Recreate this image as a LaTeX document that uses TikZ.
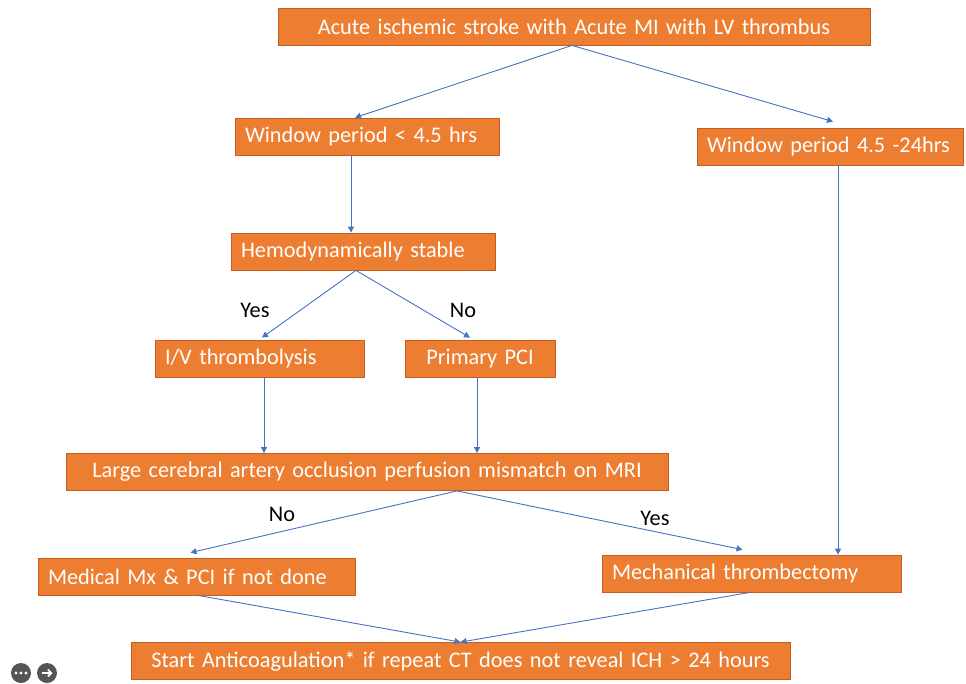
\documentclass[tikz,border=0pt]{standalone}
\usepackage{fontspec}
\setmainfont{Carlito}
\usetikzlibrary{arrows.meta,calc}
\definecolor{boxfill}{HTML}{ED7D31}
\definecolor{boxline}{HTML}{C25E22}
\definecolor{arr}{HTML}{4472C4}
\definecolor{icon}{HTML}{555555}
\tikzset{
  fbox/.style={draw=boxline, line width=0.8pt, fill=boxfill, text=white,
    font=\fontsize{22.3}{25}\selectfont, minimum height=37pt, inner xsep=10pt, inner ysep=0pt},
  conn/.style={draw=arr, line width=0.9pt, -{Triangle[length=6pt,width=6pt]}},
  lbl/.style={font=\fontsize{22.3}{25}\selectfont, text=black}
}
\begin{document}
\begin{tikzpicture}[x=1pt,y=-1pt]
\useasboundingbox (0,0) rectangle (966,683);
% boxes
\node[fbox, text width=572pt, align=center] (n1) at (574,26.5) {Acute ischemic stroke with Acute MI with LV thrombus};
\node[fbox, text width=244pt, align=left] (n2) at (367,136.5) {Window period {<} 4.5 hrs};
\node[fbox, text width=246pt, align=left] (n3) at (830,146.5) {Window period 4.5 -24hrs};
\node[fbox, text width=244pt, align=left] (n4) at (363,251.5) {Hemodynamically stable};
\node[fbox, text width=189pt, align=left] (n5) at (259.5,358.5) {I/V thrombolysis};
\node[fbox, text width=130pt, align=center] (n6) at (480,358.5) {Primary PCI};
\node[fbox, text width=582pt, align=center] (n7) at (367,472) {Large cerebral artery occlusion perfusion mismatch on MRI};
\node[fbox, text width=297pt, align=left] (n8) at (196.5,576.5) {Medical Mx \& PCI if not done};
\node[fbox, text width=279pt, align=left] (n9) at (751.5,573.5) {Mechanical thrombectomy};
\node[fbox, text width=639pt, align=center] (n10) at (460.5,661) {Start Anticoagulation* if repeat CT does not reveal ICH {>} 24 hours};
% connectors
\draw[conn] ([xshift=-2pt]n1.south) -- ([xshift=-12pt]n2.north);
\draw[conn] ([xshift=-2pt]n1.south) -- ([xshift=3pt,yshift=6pt]n3.north);
\draw[conn] ([xshift=-16pt]n2.south) -- ([xshift=-16pt]n2.south |- n4.north);
\draw[conn] ([xshift=8pt]n3.south) -- ([xshift=8pt]n3.south |- n9.north);
\draw[conn] ([xshift=-7pt]n4.south) -- ([xshift=2.5pt,yshift=2pt]n5.north);
\draw[conn] ([xshift=-7pt]n4.south) -- ([xshift=-10pt,yshift=2pt]n6.north);
\draw[conn] ([xshift=4.5pt]n5.south) -- ([xshift=4.5pt]n5.south |- n7.north);
\draw[conn] ([xshift=-3pt]n6.south) -- ([xshift=-3pt]n6.south |- n7.north);
\draw[conn] ([xshift=90pt]n7.south) -- ([xshift=-6pt,yshift=5pt]n8.north);
\draw[conn] ([xshift=90pt]n7.south) -- ([xshift=-9pt,yshift=5pt]n9.north);
\draw[conn] ([xshift=1.5pt]n8.south) -- (n10.north);
\draw[conn] ([xshift=-1.5pt]n9.south) -- (n10.north);
% labels
\node[lbl] (y1) at (255,310) {Yes};
\node[lbl] (no1) at (463,310) {No};
\node[lbl] (no2) at (282,514) {No};
\node[lbl] (y2) at (655,518) {Yes};
% corner icons
\node[circle, fill=icon, minimum size=20pt, inner sep=0pt] (i1) at (21,673) {};
\fill[white] ([xshift=-5pt]i1.center) circle (1.6pt) (i1.center) circle (1.6pt) ([xshift=5pt]i1.center) circle (1.6pt);
\node[circle, fill=icon, minimum size=20pt, inner sep=0pt] (i2) at (47,673) {};
\draw[white, line width=1.6pt, -{Straight Barb[length=3.5pt,width=7pt]}] ([xshift=-5.5pt]i2.center) -- ([xshift=5.5pt]i2.center);
\end{tikzpicture}
\end{document}
